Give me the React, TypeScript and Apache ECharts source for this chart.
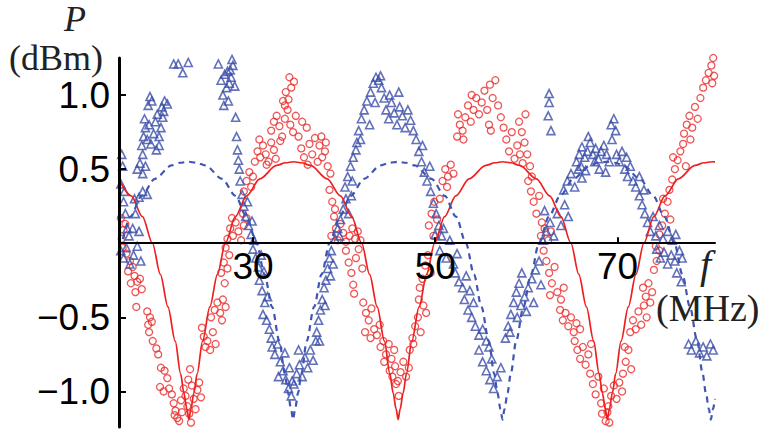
import React, { useEffect, useRef } from "react";
import * as echarts from "echarts";

// Axis ranges / ticks
const xMin = 15.3;
const xMax = 80.7;
const yMin = -1.24;
const yMax = 1.25;
const xTicks = [30, 50, 70];
const yTicks = [-1, -0.5, 0.5, 1];

// Theory curves
const redCurve: number[][] = [
  [15.3,0.43],[16.64,0.32],[17.87,0.18],[18.97,0],[19.84,-0.21],[20.67,-0.43],[21.47,-0.66],[22.06,-0.88],[22.42,-1.01],[22.75,-1.12],[22.97,-1.19],[23.19,-1.12],[23.52,-1.01],[23.88,-0.88],[24.47,-0.66],[25.27,-0.43],[26.1,-0.21],[26.97,0],[28.07,0.18],[29.3,0.32],[30.76,0.435],[32.59,0.525],[33.57,0.543],[34.45,0.55],[35.33,0.543],[36.31,0.525],[38.14,0.435],[39.6,0.32],[40.83,0.18],[41.93,0],[42.8,-0.21],[43.63,-0.43],[44.43,-0.66],[45.02,-0.88],[45.38,-1.01],[45.71,-1.12],[45.93,-1.19],[46.15,-1.12],[46.48,-1.01],[46.84,-0.88],[47.43,-0.66],[48.23,-0.43],[49.06,-0.21],[49.93,0],[51.03,0.18],[52.26,0.32],[53.72,0.435],[55.55,0.525],[56.53,0.543],[57.41,0.55],[58.29,0.543],[59.27,0.525],[61.1,0.435],[62.56,0.32],[63.79,0.18],[64.89,0],[65.76,-0.21],[66.59,-0.43],[67.39,-0.66],[67.98,-0.88],[68.34,-1.01],[68.67,-1.12],[68.89,-1.19],[69.11,-1.12],[69.44,-1.01],[69.8,-0.88],[70.39,-0.66],[71.19,-0.43],[72.02,-0.21],[72.89,0],[73.99,0.18],[75.22,0.32],[76.68,0.435],[78.51,0.525],[79.49,0.543],[80.37,0.55],[80.7,0.549]
];

const blueCurve: number[][] = [
  [15.3,-0.04],[15.45,0],[16.55,0.18],[17.78,0.32],[19.24,0.435],[21.07,0.525],[22.0,0.543],[22.92,0.55],[23.8,0.543],[24.78,0.525],[26.61,0.435],[28.07,0.32],[29.3,0.18],[30.4,0],[31.27,-0.21],[32.1,-0.43],[32.9,-0.66],[33.49,-0.88],[33.85,-1.01],[34.18,-1.12],[34.4,-1.19],[34.62,-1.12],[34.95,-1.01],[35.31,-0.88],[35.9,-0.66],[36.7,-0.43],[37.53,-0.21],[38.4,0],[39.5,0.18],[40.73,0.32],[42.19,0.435],[44.02,0.525],[45.0,0.543],[45.89,0.55],[46.78,0.543],[47.76,0.525],[49.59,0.435],[51.05,0.32],[52.28,0.18],[53.38,0],[54.25,-0.21],[55.08,-0.43],[55.88,-0.66],[56.47,-0.88],[56.83,-1.01],[57.16,-1.12],[57.38,-1.19],[57.6,-1.12],[57.93,-1.01],[58.29,-0.88],[58.88,-0.66],[59.68,-0.43],[60.51,-0.21],[61.38,0],[62.48,0.18],[63.71,0.32],[65.17,0.435],[67.0,0.525],[67.9,0.543],[68.8,0.55],[69.7,0.543],[70.63,0.525],[72.46,0.435],[73.92,0.32],[75.15,0.18],[76.25,0],[77.12,-0.21],[77.95,-0.43],[78.75,-0.66],[79.34,-0.88],[79.7,-1.01],[80.03,-1.12],[80.25,-1.19],[80.47,-1.12],[80.7,-1.05]
];

// Measured points (red circles)
const redPoints: number[][] = [
  [15.5,0.17],[15.8,0.09],[15.6,0.03],[16.0,0.13],
  [15.7,-0.03],[16.1,-0.07],[16.5,-0.12],[16.3,-0.19],[16.8,-0.16],[17.0,-0.22],[16.6,-0.27],[17.3,-0.26],[17.6,-0.24],[17.1,-0.33],[17.8,-0.31],[17.2,-0.43],[18.4,-0.46],[18.7,-0.5],[18.5,-0.55],[18.9,-0.53],[18.6,-0.6],[19.0,-0.66],[19.4,-0.71],[19.6,-0.75],[19.9,-0.84],[20.3,-0.86],[20.6,-0.91],[19.8,-0.97],[20.2,-1.0],[20.8,-0.98],
  [21.1,-1.02],[21.3,-1.08],[21.5,-1.13],[21.7,-1.18],[21.9,-1.2],[21.4,-1.16],[22.1,-1.06],[22.4,-0.98],[22.6,-1.03],[22.8,-1.1],[23.0,-1.15],[23.2,-1.21],[23.1,-0.85],[23.3,-0.96],[23.5,-1.05],[23.7,-1.12],[23.9,-0.99],[24.1,-0.94],[24.3,-1.04],[22.2,-1.14],[22.9,-0.92],
  [24.4,-0.57],[24.6,-0.63],[24.8,-0.7],[25.0,-0.66],[25.3,-0.72],[25.6,-0.6],[25.9,-0.68],[25.4,-0.5],[25.8,-0.45],[26.1,-0.4],[26.4,-0.47],[26.7,-0.38],[27.0,-0.43],[26.6,-0.52],[26.9,-0.27],[26.5,-0.2],[26.8,-0.13],[27.2,-0.17],[27.4,-0.08],[27.0,-0.03],
  [27.2,0.03],[27.5,0.1],[27.8,0.05],[28.1,0.14],[28.4,0.08],[28.7,0.02],[29.0,0.12],[29.3,0.17],[28.9,0.2],[27.7,0.17],
  [29.0,0.35],[29.3,0.42],[29.6,0.48],[29.8,0.38],[30.0,0.45],
  [30.2,0.55],[30.5,0.62],[30.8,0.58],[31.1,0.66],[31.4,0.6],[31.7,0.55],[32.0,0.68],[32.3,0.63],[30.7,0.7],[31.5,0.53],[32.5,0.57],
  [32.0,0.76],[32.3,0.82],[32.6,0.86],[32.9,0.79],[33.2,0.72],[33.5,0.84],[33.8,0.9],[34.1,0.8],[34.4,0.75],[34.7,0.86],[33.0,0.69],
  [33.3,0.96],[33.6,1.02],[33.9,0.97],[34.2,1.05],[34.5,1.09],[34.0,1.12],[33.5,0.93],
  [35.0,0.72],[35.3,0.64],[35.6,0.58],[35.9,0.78],[36.2,0.67],[36.5,0.6],[36.8,0.71],[37.1,0.55],[35.4,0.82],[36.0,0.53],
  [37.3,0.66],[37.6,0.58],[37.9,0.62],[38.2,0.52],[38.5,0.47],[37.5,0.72],[38.0,0.68],
  [38.4,0.36],[38.7,0.28],[38.9,0.18],[39.1,0.1],[38.6,0.05],[39.3,0.02],[39.6,0.13],[39.9,0.07],[40.2,0.01],[39.0,0.23],
  [40.6,0.05],[40.9,0.1],[41.2,0.03],[41.5,0.08],[41.8,0.02],
  [40.2,-0.05],[40.5,-0.13],[40.8,-0.2],[41.0,-0.28],[41.3,-0.1],[41.6,-0.04],[42.0,-0.17],[41.1,-0.34],
  [42.1,-0.4],[42.4,-0.47],[42.7,-0.52],[43.0,-0.44],[43.3,-0.58],[43.6,-0.62],[42.9,-0.64],[43.9,-0.55],[42.3,-0.6],
  [44.0,-0.7],[44.3,-0.66],[44.6,-0.75],[44.9,-0.68],[45.2,-0.78],[45.5,-0.72],[44.4,-0.8],
  [45.0,-0.86],[45.3,-0.9],[45.6,-0.83],[45.9,-0.93],[46.2,-0.87],[46.5,-0.8],[46.8,-0.9],[47.1,-0.84],[46.0,-1.03],[45.7,-0.95],
  [47.2,-0.72],[47.5,-0.64],[47.8,-0.56],[48.1,-0.5],[48.4,-0.6],[48.7,-0.42],[49.0,-0.47],[48.2,-0.38],[47.6,-0.68],
  [48.3,-0.3],[48.6,-0.24],[48.9,-0.15],[49.2,-0.08],[49.5,-0.2],
  [49.3,0.12],[49.6,0.2],[49.9,0.28],[50.2,0.16],[50.5,0.3],[49.8,0.05],
  [50.8,0.42],[51.1,0.5],[51.4,0.45],[51.7,0.53],[52.0,0.47],[51.3,0.38],
  [52.4,0.72],[52.7,0.8],[52.5,0.87],[53.0,0.76],[53.3,0.85],[53.6,0.93],[53.9,0.82],[54.2,0.9],[54.5,0.98],[54.8,0.87],[55.1,0.95],[55.4,1.03],[55.7,0.9],[56.0,1.07],[56.3,0.98],[56.6,1.1],[56.9,0.93],[57.2,0.85],[55.9,0.8],[53.1,0.7],[54.0,1.0],[56.1,0.76],
  [57.5,0.78],[57.8,0.7],[58.1,0.62],[58.4,0.75],[58.7,0.57],[59.0,0.66],[59.3,0.6],[59.6,0.54],
  [59.2,0.82],[59.5,0.75],[59.8,0.68],[60.1,0.6],[60.4,0.52],[59.9,0.87],
  [60.2,0.42],[60.5,0.35],[60.8,0.28],[61.1,0.2],[61.4,0.32],[61.7,0.14],[60.6,0.45],
  [61.6,0.05],[62.0,0.1],[62.4,0.02],[62.7,0.08],
  [61.9,-0.05],[62.2,-0.12],[62.5,-0.2],[62.8,-0.27],[63.1,-0.16],[63.4,-0.33],[63.8,-0.38],[64.1,-0.3],[62.6,-0.35],
  [63.7,-0.45],[64.0,-0.52],[64.3,-0.47],[64.6,-0.56],[64.9,-0.5],[65.2,-0.6],[65.5,-0.54],[65.9,-0.58],
  [65.3,-0.66],[65.6,-0.72],[65.9,-0.78],[66.2,-0.7],[66.5,-0.82],[66.8,-0.75],[67.1,-0.68],
  [67.0,-0.88],[67.3,-0.95],[67.6,-1.02],[67.9,-0.9],[68.2,-1.08],[68.5,-0.98],
  [68.3,-1.15],[68.7,-1.2],[69.0,-1.1],[69.3,-1.03],[69.6,-0.96],[69.9,-1.05],[70.2,-0.94],[70.5,-1.0],[69.1,-1.21],[68.9,-1.14],
  [70.6,-0.88],[70.9,-0.8],[71.2,-0.72],[71.5,-0.85],[70.8,-0.7],
  [71.4,-0.6],[71.7,-0.52],[72.0,-0.58],[72.3,-0.46],[72.6,-0.55],[72.9,-0.42],[73.2,-0.5],[73.6,-0.4],
  [72.8,-0.3],[73.1,-0.36],[73.4,-0.27],[73.8,-0.33],
  [74.0,-0.18],[74.3,-0.12],[74.6,-0.05],[74.2,-0.02],
  [74.6,0.06],[74.9,0.12],[75.2,0.2],[75.5,0.28],[75.0,0.3],[75.8,0.16],
  [75.7,0.36],[76.0,0.43],[76.3,0.5],[76.6,0.56],[76.9,0.62],[77.2,0.67],[76.1,0.58],[77.5,0.52],
  [77.3,0.74],[77.6,0.8],[77.9,0.86],[78.2,0.78],[78.5,0.92],[78.8,0.84],[79.1,0.98],[78.0,0.7],
  [79.4,1.05],[79.7,1.1],[80.0,1.15],[80.3,1.2],[80.5,1.25],[80.4,1.08],[80.6,1.13]
];

// Measured points (blue triangles)
const bluePoints: number[][] = [
  [15.6,0.6],[15.7,0.52],[15.5,0.4],[15.8,0.28],[16.0,0.2],[16.2,0.1],[16.4,0.05],[15.9,0.35],
  [17.3,0.5],[17.6,0.54],[17.9,0.47],[18.2,0.52],
  [17.5,0.31],[17.9,0.35],[18.4,0.33],
  [16.8,0.1],[17.1,0.2],[17.5,0.08],[17.0,0.3],
  [15.5,-0.05],[15.8,-0.1],[16.1,-0.03],[16.5,-0.14],[16.9,-0.08],[17.3,-0.02],[17.7,-0.12],
  [17.8,0.66],[18.0,0.72],[18.2,0.78],[18.4,0.7],[18.6,0.8],[18.8,0.67],[18.5,0.93],[18.7,0.99],[18.9,0.96],[19.1,0.74],[19.3,0.82],[19.5,0.87],[19.7,0.72],[19.9,0.78],[20.1,0.85],[19.4,0.63],[19.7,0.66],[20.0,0.92],[20.3,0.96],[20.6,0.94],[20.2,0.89],[18.1,0.84],[17.9,0.6],
  [21.3,1.21],[21.8,1.21],[22.3,1.15],[22.9,1.22],
  [26.2,1.21],[26.5,1.1],[26.7,1.0],[26.9,1.14],[27.1,1.05],[27.3,0.96],[27.5,1.17],[27.6,1.12],[27.8,1.2],[27.4,1.08],[27.7,1.24],[27.2,1.16],[28.0,1.06],[26.8,0.93],
  [28.1,0.85],[28.2,0.72],[28.3,0.63],[28.4,0.56],[28.5,0.5],
  [28.6,0.42],[28.8,0.33],[29.0,0.25],[29.2,0.18],[29.5,0.12],[29.8,0.06],[30.1,0.02],[29.4,0.28],[29.9,0.15],
  [30.0,-0.04],[30.3,-0.1],[30.6,-0.16],[30.9,-0.08],[31.2,-0.19],
  [30.7,-0.25],[31.0,-0.32],[31.3,-0.4],[31.1,-0.48],[31.5,-0.52],[31.8,-0.58],[32.0,-0.64],[31.6,-0.36],
  [32.1,-0.7],[32.4,-0.75],[32.7,-0.68],[33.0,-0.8],[33.3,-0.86],[33.6,-0.92],[33.9,-0.98],[34.2,-1.03],[34.5,-0.95],[34.8,-0.88],[35.1,-0.82],[35.4,-0.9],[35.7,-0.77],[36.0,-0.84],[36.3,-0.72],[36.6,-0.79],[36.9,-0.66],[33.5,-0.74],[34.0,-0.84],[35.0,-0.72],[32.8,-0.9],[34.3,-0.93],
  [37.0,-0.6],[37.2,-0.52],[37.4,-0.45],[37.6,-0.38],[37.8,-0.3],[38.0,-0.25],[38.2,-0.17],[38.4,-0.1],[38.6,-0.05],[37.3,-0.66],[37.9,-0.42],[38.5,-0.22],[38.8,-0.14],
  [39.0,0.03],[39.3,0.1],[39.6,0.16],[39.9,0.23],[40.2,0.3],[40.5,0.2],[40.8,0.32],[39.5,0.05],
  [40.1,0.38],[40.4,0.45],[40.7,0.52],[41.0,0.58],[41.3,0.63],[40.9,0.42],
  [41.4,0.68],[41.6,0.76],[41.9,0.84],[42.2,0.9],[42.5,0.96],[42.8,0.8],[41.8,0.7],
  [42.9,1.02],[43.2,1.08],[43.5,1.12],[43.8,1.1],[44.1,1.05],[44.4,0.98],[43.4,0.95],[44.0,1.13],
  [44.6,0.9],[44.9,0.84],[45.2,0.95],[45.5,0.88],[45.8,0.8],[46.1,0.92],[46.4,0.86],[46.7,0.78],[47.0,0.9],[47.3,0.83],[47.6,0.76],[45.0,1.0],[46.0,1.02],
  [47.9,0.7],[48.2,0.62],[48.5,0.55],[48.8,0.48],[49.1,0.42],[49.4,0.52],[48.6,0.66],
  [49.5,0.35],[49.8,0.27],[50.1,0.2],[50.4,0.12],[50.7,0.05],[50.0,0.06],
  [50.5,-0.05],[50.9,0.1],[51.2,-0.1],[51.6,0.02],[52.0,-0.14],[52.4,-0.07],
  [52.2,-0.2],[52.6,-0.26],[53.0,-0.3],[53.4,-0.22],[53.8,-0.32],
  [53.2,-0.38],[53.6,-0.45],[54.0,-0.5],[54.4,-0.56],[54.8,-0.62],[55.2,-0.58],[55.6,-0.66],[54.2,-0.4],
  [54.8,-0.72],[55.2,-0.8],[55.6,-0.86],[56.0,-0.92],[56.4,-0.98],[56.8,-0.9],[57.2,-0.84],[56.2,-0.78],[55.9,-0.7],
  [57.7,-0.64],[58.0,-0.56],[58.3,-0.48],[58.6,-0.4],[58.9,-0.33],[59.2,-0.27],[59.5,-0.2],[58.2,-0.6],
  [59.0,-0.5],[59.4,-0.42],[59.8,-0.36],[60.2,-0.3],[60.6,-0.24],[61.0,-0.18],[61.4,-0.12],[60.0,-0.46],[60.8,-0.4],[61.6,-0.28],
  [61.8,0.02],[62.2,0.08],[62.6,0.14],[63.0,0.05],[63.4,0.2],[63.8,0.12],[64.2,0.26],[64.6,0.18],[62.0,0.22],
  [62.5,1.01],[62.5,0.95],[62.4,0.86],[62.7,0.76],
  [64.1,0.36],[64.5,0.42],[64.9,0.47],[65.3,0.38],[65.7,0.5],[66.1,0.44],[66.5,0.49],
  [65.5,0.55],[65.8,0.6],[66.1,0.65],[66.4,0.58],[66.7,0.62],[67.0,0.68],[67.3,0.6],[67.6,0.64],[67.9,0.57],[68.2,0.62],[68.5,0.66],[68.8,0.6],[69.1,0.55],[69.4,0.7],[66.8,0.72],[67.5,0.55],[68.0,0.5],[66.0,0.52],[68.7,0.48],
  [69.3,0.8],[69.6,0.84],[69.8,0.76],
  [69.9,0.6],[70.2,0.55],[70.5,0.62],[70.8,0.5],[71.1,0.45],[71.4,0.52],[71.7,0.42],[72.0,0.38],[72.4,0.45],[71.0,0.58],
  [72.4,0.32],[72.7,0.26],[73.0,0.2],[73.3,0.14],[73.6,0.08],[73.9,0.18],[74.2,0.05],[74.6,0.12],[72.9,0.36],
  [75.0,0.03],[75.5,0.08],[76.0,0.02],[76.4,0.06],
  [74.3,-0.04],[74.7,-0.1],[75.1,-0.06],[75.5,-0.14],[75.9,-0.08],[76.3,-0.12],[76.8,-0.05],[77.1,-0.1],
  [76.5,-0.2],[77.0,-0.26],
  [77.8,-0.68],[78.1,-0.72],[78.6,-0.66],[79.0,-0.74],[79.4,-0.7],[79.8,-0.76],[80.2,-0.68],[80.5,-0.72]
];

const RED = "#ea2a2a";
const BLUE = "#3b4ea8";
const SERIF = '"Liberation Serif", "DejaVu Serif", serif';
const SANS = '"Liberation Sans", Arial, sans-serif';

const W = 761;
const H = 432;
const GRID = { left: 119, right: 46, top: 58, bottom: 5 };

function fmtY(v: number): string {
  const s = Math.abs(v).toFixed(1);
  return v < 0 ? "\u2212" + s : s;
}

export default function App() {
  const ref = useRef<HTMLDivElement>(null);
  useEffect(() => {
    if (!ref.current) return;
    const chart = echarts.init(ref.current, null, { renderer: "svg" });
    // shift the bottom x axis up onto the y = 0 line
    const gridH = H - GRID.top - GRID.bottom;
    const zeroFromBottom = (gridH * (0 - yMin)) / (yMax - yMin);
    chart.setOption({
      animation: false,
      backgroundColor: "#ffffff",
      grid: { ...GRID, containLabel: false, outerBoundsMode: "none" },
      xAxis: {
        type: "value",
        min: xMin,
        max: xMax,
        position: "bottom",
        offset: -zeroFromBottom,
        z: 10,
        axisLine: { show: true, onZero: false, lineStyle: { color: "#000", width: 2 } },
        axisTick: { show: true, inside: true, length: 6, customValues: xTicks, lineStyle: { color: "#000", width: 2 } },
        axisLabel: {
          show: true,
          customValues: xTicks,
          margin: 5,
          color: "#000",
          fontSize: 37,
          fontFamily: SANS,
          formatter: (v: number) => String(Math.round(v)),
        },
        splitLine: { show: false },
      },
      yAxis: {
        type: "value",
        min: yMin,
        max: yMax,
        z: 10,
        axisLine: { show: true, onZero: false, lineStyle: { color: "#000", width: 3 } },
        axisTick: { show: true, inside: true, length: 7, customValues: yTicks, lineStyle: { color: "#000", width: 2 } },
        axisLabel: {
          show: true,
          customValues: yTicks,
          margin: 9,
          color: "#000",
          fontSize: 37,
          fontFamily: SANS,
          formatter: (v: number) => fmtY(v),
        },
        splitLine: { show: false },
      },
      graphic: [
        { type: "text", style: { text: "P", x: 64, y: 1, font: "italic 36px " + SERIF, fill: "#222", textAlign: "left", textVerticalAlign: "top" } },
        { type: "text", style: { text: "(dBm)", x: 9, y: 58, font: "36px " + SERIF, fill: "#222", textAlign: "left", textVerticalAlign: "middle" } },
        { type: "text", style: { text: "f", x: 700, y: 264, font: "italic 40px " + SERIF, fill: "#222", textAlign: "left", textVerticalAlign: "middle" } },
        { type: "text", style: { text: "(MHz)", x: 656, y: 308, font: "38px " + SERIF, fill: "#222", textAlign: "left", textVerticalAlign: "middle" } },
      ],
      series: [
        {
          type: "scatter",
          data: redPoints,
          symbol: "circle",
          symbolSize: 7,
          itemStyle: { color: "rgba(0,0,0,0)", borderColor: RED, borderWidth: 1.3 },
          z: 2,
        },
        {
          type: "scatter",
          data: bluePoints,
          symbol: "triangle",
          symbolSize: 8,
          itemStyle: { color: "rgba(0,0,0,0)", borderColor: BLUE, borderWidth: 1.6 },
          z: 2,
        },
        {
          type: "line",
          data: redCurve,
          showSymbol: false,
          smooth: 0.3,
          smoothMonotone: "x",
          lineStyle: { color: "#ee1f1f", width: 1.7 },
          z: 3,
        },
        {
          type: "line",
          data: blueCurve,
          showSymbol: false,
          smooth: 0.3,
          smoothMonotone: "x",
          lineStyle: { color: "#3f55b2", width: 2.2, type: [6, 5] },
          z: 3,
        },
      ],
    });
    return () => chart.dispose();
  }, []);
  return (
    <div
      ref={ref}
      style={{ position: "fixed", left: 0, top: 0, width: W, height: H, background: "#fff" }}
    />
  );
}
